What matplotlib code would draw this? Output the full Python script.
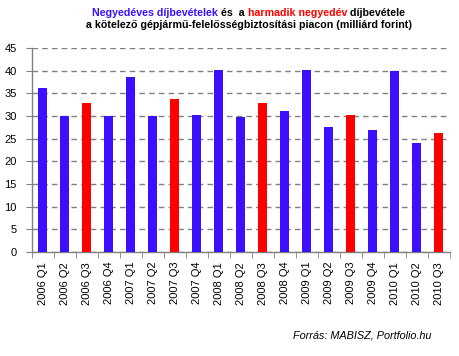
import numpy as np
import matplotlib.pyplot as plt
from matplotlib.ticker import MultipleLocator, FixedLocator

plt.rcParams['font.family'] = ['Liberation Sans', 'DejaVu Sans']

quarters = ['2006 Q1', '2006 Q2', '2006 Q3', '2006 Q4',
            '2007 Q1', '2007 Q2', '2007 Q3', '2007 Q4',
            '2008 Q1', '2008 Q2', '2008 Q3', '2008 Q4',
            '2009 Q1', '2009 Q2', '2009 Q3', '2009 Q4',
            '2010 Q1', '2010 Q2', '2010 Q3']
premiums = [36.2, 30.0, 32.9, 30.0,
            38.6, 30.0, 33.8, 30.2,
            40.2, 29.8, 32.9, 31.1,
            40.2, 27.6, 30.2, 26.9,
            39.9, 24.0, 26.3]

BLUE = '#3C10FF'
RED = '#FF0000'
colors = [RED if q.endswith('Q3') else BLUE for q in quarters]

fig = plt.figure(figsize=(4.59, 3.56), dpi=100)
ax = fig.add_axes([0.0697, 0.292, 0.9103, 0.573])

x = np.arange(len(quarters))
ax.bar(x, premiums, width=0.41, color=colors, zorder=3)

ax.set_xlim(-0.5, len(quarters) - 0.5)
ax.set_ylim(0, 45)
ax.yaxis.set_major_locator(MultipleLocator(5))
ax.grid(axis='y', color='#808080', linestyle=(0, (4, 3)), linewidth=1, zorder=0)

ax.set_xticks(x)
ax.set_xticklabels(quarters, rotation=90, fontsize=8)
ax.xaxis.set_minor_locator(FixedLocator(np.arange(-0.5, len(quarters), 1)))
ax.tick_params(axis='x', which='major', length=0, pad=7)
ax.tick_params(axis='x', which='minor', length=4, color='#808080', direction='out')
ax.tick_params(axis='y', length=4, color='#808080', labelsize=8, pad=7)

for s in ['top', 'right']:
    ax.spines[s].set_visible(False)
for s in ['left', 'bottom']:
    ax.spines[s].set_color('#808080')
    ax.spines[s].set_linewidth(1)

# two-coloured title, built from pieces
fig.canvas.draw()
renderer = fig.canvas.get_renderer()
pieces = [('Negyedéves díjbevételek', BLUE), (' és  a ', 'black'),
          ('harmadik negyedév', RED), (' díjbevétele', 'black')]
texts = []
for s, c in pieces:
    t = fig.text(0, 0, s, color=c, fontsize=7.7, fontweight='bold', va='baseline')
    texts.append(t)
widths = [t.get_window_extent(renderer).width for t in texts]
total = sum(widths)
cx = 248.5 / 459
start = cx - total / 2 / fig.bbox.width
y1 = 1 - 16.5 / 356
for t, w in zip(texts, widths):
    t.set_position((start, y1))
    start += w / fig.bbox.width
fig.text(cx, 1 - 28 / 356, 'a kötelező gépjármű-felelősségbiztosítási piacon (milliárd forint)',
         fontsize=7.7, fontweight='bold', ha='center', va='baseline')

fig.text(431 / 459, 1 - 339 / 356, 'Forrás: MABISZ, Portfolio.hu', fontsize=7.8,
         style='italic', ha='right', va='baseline')

fig.savefig('out.png', dpi=100)
